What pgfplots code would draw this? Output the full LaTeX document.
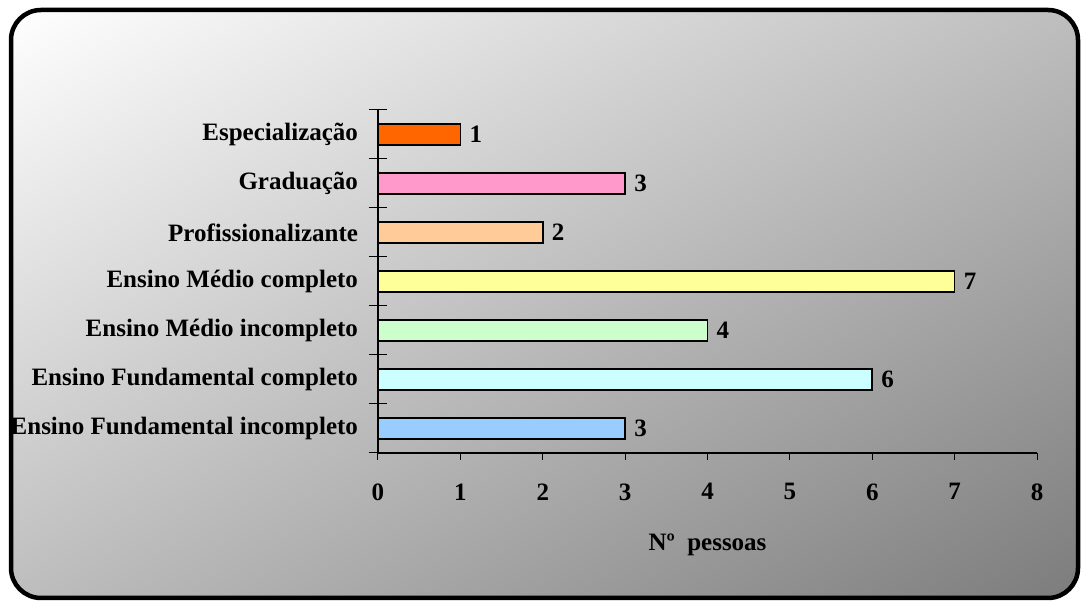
\documentclass[border=0pt]{standalone}
\usepackage{pgfplots}
\pgfplotsset{compat=1.18}
\usepackage{fontspec}
\setmainfont{Liberation Serif}
\definecolor{cEsp}{HTML}{FF6600}
\definecolor{cGra}{HTML}{FF99CC}
\definecolor{cPro}{HTML}{FFCC99}
\definecolor{cEMc}{HTML}{FFFF99}
\definecolor{cEMi}{HTML}{CCFFCC}
\definecolor{cEFc}{HTML}{CCFFFF}
\definecolor{cEFi}{HTML}{99CCFF}
\definecolor{bgTop}{HTML}{FFFFFF}
\definecolor{bgMid}{HTML}{CDCDCD}
\definecolor{bgBot}{HTML}{7C7C7C}
\newcommand\lf{\fontsize{25}{29}\selectfont\bfseries}
\begin{document}
\begin{tikzpicture}[x=1pt,y=1pt]
\useasboundingbox (0,0) rectangle (1082,601);
\begin{scope}
  \clip[rounded corners=30pt] (11,3) rectangle (1078,591);
  \begin{scope}[transform canvas={shift={(544.5pt,297pt)}, rotate=28.83}]
    \shade[top color=bgTop, middle color=bgMid, bottom color=bgBot] (-720,-516) rectangle (720,516);
  \end{scope}
\end{scope}
\draw[line width=4.5pt, rounded corners=30pt] (11,3) rectangle (1078,591);
\begin{axis}[
  at={(378pt,148pt)}, anchor=south west,
  scale only axis, width=659pt, height=343pt,
  xmin=0, xmax=8, ymin=-0.5, ymax=6.5,
  axis lines*=left,
  axis line style={line width=1.3pt, black},
  xbar, bar width=21pt, bar shift=0pt,
  xtick={0,...,8},
  ytick={0,...,6},
  yticklabels={Ensino Fundamental incompleto, Ensino Fundamental completo, Ensino Médio incompleto, Ensino Médio completo, Profissionalizante, Graduação, Especialização},
  minor ytick={-0.5,0.5,...,6.5},
  tick align=outside,
  major tick length=7pt,
  minor tick length=18pt,
  tick style={black, line width=1pt},
  major y tick style={draw=none},
  minor y tick style={xshift=9pt},
  /pgf/number format/assume math mode=true,
  ticklabel style={font=\lf},
  yticklabel style={xshift=-9.5pt},
  xticklabel style={yshift=-20pt},
  xlabel={Nº\ \ pessoas},
  xlabel style={font=\lf, yshift=-27pt},
  nodes near coords,
  nodes near coords style={font=\lf, black, anchor=west, xshift=5pt},
  every axis plot/.append style={draw=black, line width=1.6pt},
]
\addplot[fill=cEFi] coordinates {(3,0)};
\addplot[fill=cEFc] coordinates {(6,1)};
\addplot[fill=cEMi] coordinates {(4,2)};
\addplot[fill=cEMc] coordinates {(7,3)};
\addplot[fill=cPro] coordinates {(2,4)};
\addplot[fill=cGra] coordinates {(3,5)};
\addplot[fill=cEsp] coordinates {(1,6)};
\end{axis}
\end{tikzpicture}
\end{document}
